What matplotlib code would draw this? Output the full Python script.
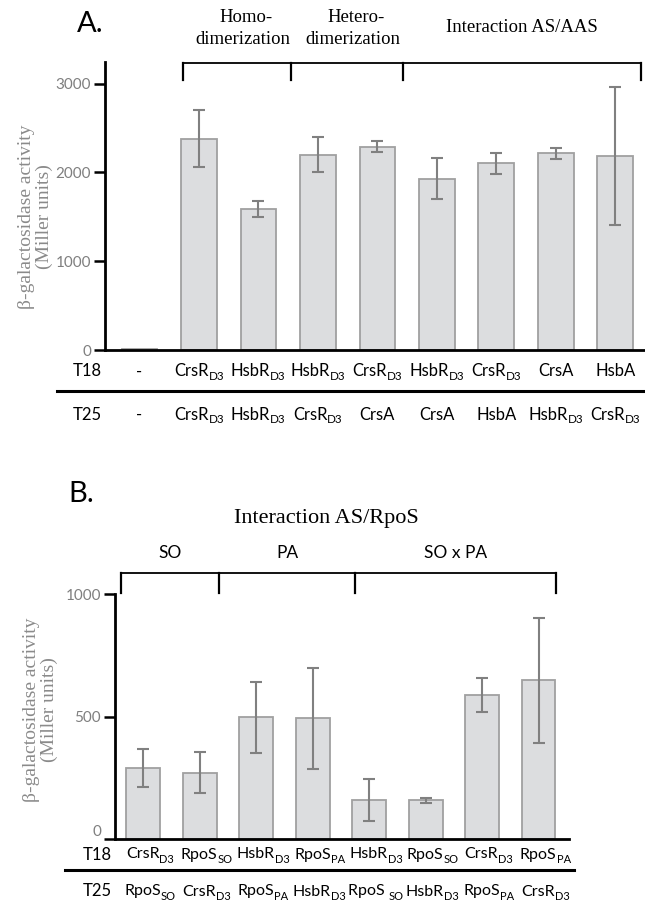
import matplotlib
matplotlib.use("Agg")
import matplotlib.pyplot as plt
from matplotlib.transforms import blended_transform_factory, offset_copy

plt.rcParams['font.family'] = ['Lato', 'DejaVu Sans']

# labels are (name, subscript) pairs; subscript "" means none
# panel A
a_t18 = [("-", ""), ("CrsR", "D3"), ("HsbR", "D3"), ("HsbR", "D3"), ("CrsR", "D3"),
         ("HsbR", "D3"), ("CrsR", "D3"), ("CrsA", ""), ("HsbA", "")]
a_t25 = [("-", ""), ("CrsR", "D3"), ("HsbR", "D3"), ("CrsR", "D3"), ("CrsA", ""),
         ("CrsA", ""), ("HsbA", ""), ("HsbR", "D3"), ("CrsR", "D3")]
a_vals = [10, 2380, 1588, 2200, 2290, 1929, 2102, 2214, 2189]
a_err = [0, 320, 85, 195, 65, 230, 120, 60, 777]
a_ticks = [0, 1000, 2000, 3000]
a_groups = [["Homo-", "dimerization"], ["Hetero-", "dimerization"], ["Interaction AS/AAS"]]

# panel B
b_t18 = [("CrsR", "D3"), ("RpoS", "SO"), ("HsbR", "D3"), ("RpoS", "PA"),
         ("HsbR", "D3"), ("RpoS", "SO"), ("CrsR", "D3"), ("RpoS", "PA")]
b_t25 = [("RpoS", "SO"), ("CrsR", "D3"), ("RpoS", "PA"), ("HsbR", "D3"),
         ("RpoS ", "SO"), ("HsbR", "D3"), ("RpoS", "PA"), ("CrsR", "D3")]
b_vals = [289, 271, 497, 493, 159, 158, 589, 648]
b_err = [77, 85, 145, 207, 85, 11, 70, 256]
b_ticks = [0, 500, 1000]
b_groups = ["SO", "PA", "SO x PA"]

W, H = 645, 900
BAR = "#dcdddf"
EDGE = "#a0a0a0"
ERR = "#808080"
GRAY = "#8a8a8a"


def fy(py):
    return 1 - py / H


def fx(px):
    return px / W


def draw_bars(ax, vals, errs):
    xs = list(range(len(vals)))
    ax.bar(xs, vals, width=0.6, color=BAR, edgecolor=EDGE, linewidth=1.3, zorder=2)
    ex = [x for x, e in zip(xs, errs) if e > 0]
    ev = [v for v, e in zip(vals, errs) if e > 0]
    ee = [e for e in errs if e > 0]
    ax.errorbar(ex, ev, yerr=ee, fmt="none", ecolor=ERR, elinewidth=1.5,
                capsize=4, capthick=1.5, zorder=3)
    for s in ["top", "right"]:
        ax.spines[s].set_visible(False)
    for s in ["left", "bottom"]:
        ax.spines[s].set_linewidth(2)
    ax.set_xticks([])
    ax.tick_params(axis="y", direction="out", length=8, width=1.8, color="black",
                   labelcolor="#7f7f7f", labelsize=11, pad=2)


def bracket(fig, ax, xs, top, bot):
    tr = blended_transform_factory(ax.transData, fig.transFigure)
    ax.plot([xs[0], xs[-1]], [fy(top), fy(top)], color="black", lw=1.3,
            transform=tr, clip_on=False)
    for x in xs:
        ax.plot([x, x], [fy(top), fy(bot)], color="black", lw=1.6,
                transform=tr, clip_on=False)


def row_labels(fig, ax, labels, py, dx, size):
    tr = blended_transform_factory(ax.transData, fig.transFigure)
    r = fig.canvas.get_renderer()
    for i, (name, s) in enumerate(labels):
        x = i + dx
        if s == "":
            ax.text(x, fy(py), name, transform=tr, ha="center", va="center_baseline",
                    fontsize=size, clip_on=False)
            continue
        t1 = ax.text(x, fy(py), name, transform=tr, ha="left", va="center_baseline",
                     fontsize=size, clip_on=False)
        t2 = ax.text(x, fy(py), s, transform=tr, ha="left", va="center_baseline",
                     fontsize=size * 0.7, clip_on=False)
        w1 = t1.get_window_extent(r).width
        w2 = t2.get_window_extent(r).width
        total = w1 + w2
        t1.set_transform(offset_copy(tr, fig, x=-total / 2, y=0, units="dots"))
        t2.set_transform(offset_copy(tr, fig, x=-total / 2 + w1, y=-size * 0.45,
                                     units="dots"))


fig = plt.figure(figsize=(W / 100, H / 100), dpi=100)

# ---- A ----
axA = fig.add_axes([fx(105), fy(350), fx(540), 288 / H])
draw_bars(axA, a_vals, a_err)
axA.set_xlim(-0.58, 8.5)
axA.set_ylim(0, 3243)
axA.set_yticks(a_ticks)
axA.set_ylabel("β-galactosidase activity\n(Miller units)", family="Liberation Serif",
               fontsize=14, color=GRAY, linespacing=1.05)
axA.yaxis.set_label_coords(fx(53), fy(217), transform=fig.transFigure)

bxA = [0.73, 2.54, 4.43, 8.43]
bracket(fig, axA, bxA, 63, 80)
trA = blended_transform_factory(axA.transData, fig.transFigure)
for i, g in enumerate(a_groups):
    cx = (bxA[i] + bxA[i + 1]) / 2
    if len(g) == 2:
        axA.text(cx + 0.15, fy(18), g[0], transform=trA, ha="center", va="center",
                 family="Liberation Serif", fontsize=13.5)
        axA.text(cx + 0.1, fy(40), g[1], transform=trA, ha="center", va="center",
                 family="Liberation Serif", fontsize=13.5)
    else:
        axA.text(cx, fy(28), g[0], transform=trA, ha="center", va="center",
                 family="Liberation Serif", fontsize=13.5)

fig.text(fx(77), fy(24), "A.", fontsize=21, va="center", ha="left")
fig.text(fx(87), fy(370), "T18", fontsize=12, ha="center", va="center_baseline")
fig.text(fx(87), fy(413), "T25", fontsize=12, ha="center", va="center_baseline")
row_labels(fig, axA, a_t18, 370, 0, 12)
row_labels(fig, axA, a_t25, 413, 0, 12)
fig.add_artist(plt.Line2D([fx(57), fx(645)], [fy(391), fy(391)], color="black", lw=2.2))

# ---- B ----
axB = fig.add_axes([fx(115), fy(839), fx(454), 245 / H])
draw_bars(axB, b_vals, b_err)
axB.set_xlim(-0.5, 7.54)
axB.set_ylim(0, 1000)
axB.set_yticks(b_ticks)
axB.get_yticklabels()[0].set_va("bottom")
axB.set_ylabel("β-galactosidase activity\n(Miller units)", family="Liberation Serif",
               fontsize=14, color=GRAY, linespacing=1.05)
axB.yaxis.set_label_coords(fx(58), fy(710), transform=fig.transFigure)

bxB = [-0.39, 1.345, 3.75, 7.31]
bracket(fig, axB, bxB, 573, 593)
trB = blended_transform_factory(axB.transData, fig.transFigure)
for i, g in enumerate(b_groups):
    cx = (bxB[i] + bxB[i + 1]) / 2
    axB.text(cx, fy(553), g, transform=trB, ha="center", va="center", fontsize=12.5)
axB.text((bxB[0] + bxB[-1]) / 2 - 0.21, fy(519), "Interaction AS/RpoS", transform=trB,
         ha="center", va="center", family="Liberation Serif", fontsize=16)

fig.text(fx(68), fy(494), "B.", fontsize=21, va="center", ha="left")
fig.text(fx(97), fy(853), "T18", fontsize=12, ha="center", va="center_baseline")
fig.text(fx(97), fy(890), "T25", fontsize=12, ha="center", va="center_baseline")
row_labels(fig, axB, b_t18, 853, 0.12, 11.5)
row_labels(fig, axB, b_t25, 890, 0.12, 11.5)
fig.add_artist(plt.Line2D([fx(65), fx(574)], [fy(870), fy(870)], color="black", lw=2.2))

fig.savefig("out.png", dpi=100)
